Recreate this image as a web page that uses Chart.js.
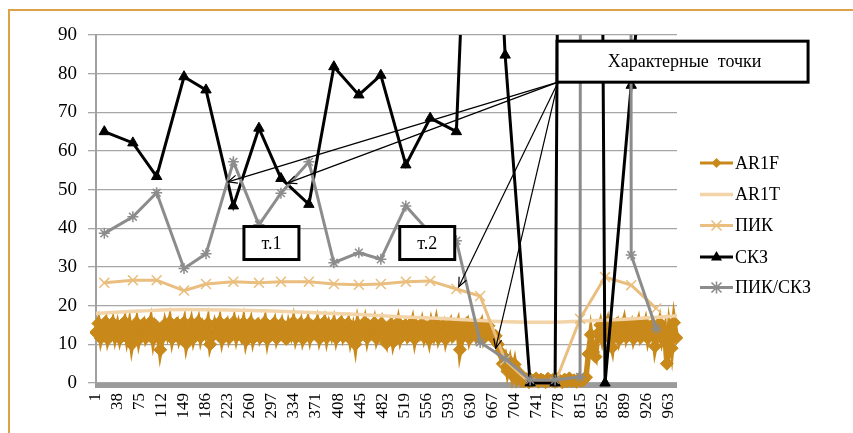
<!DOCTYPE html>
<html><head><meta charset="utf-8">
<script src="https://cdn.jsdelivr.net/npm/chart.js@4.4.1/dist/chart.umd.min.js"></script>
<style>html,body{margin:0;padding:0;background:#fff;}#wrap{width:853px;height:433px;position:relative;}</style>
</head><body><div id="wrap"><canvas id="c" width="853" height="433"></canvas></div>
<script>
// ---- data ----
const tickLabels = [1,38,75,112,149,186,223,260,297,334,371,408,445,482,519,556,593,630,667,704,741,778,815,852,889,926,963];
const xMin = 1, xMax = 978;
const sampleIdx = [15,63,103,149,186,232,275,312,359,401,443,480,522,563,607,647,689,731,773,815,857,901,943];
const pik    = [25.9,26.6,26.6,23.9,25.6,26.2,25.9,26.2,26.2,25.6,25.4,25.6,26.2,26.4,24.3,22.5,5.9,0,0,16.6,27.4,25.3,19.3];
const skz    = [65.0,62.1,53.4,79.2,75.8,45.8,65.9,52.9,46.2,81.8,74.5,79.6,56.4,68.5,65.0,214,84.8,0,0,1040,0,77,150];
const pikSkz = [38.7,43.0,49.2,29.6,33.4,57.2,40.9,49.1,57.2,31.1,33.7,32.0,45.8,38.8,36.8,10.5,6.3,0.8,0.8,1.6,50000,33.1,14.1];
const ar1tIdx = [1,75,149,223,297,371,445,519,593,667,741,815,889,963,978];
const ar1t    = [18.0,18.6,19.0,18.9,18.6,18.2,17.7,17.1,16.6,16.0,15.7,16.0,16.5,17.2,17.4];
const ar1fStart = 1, ar1fStep = 4;
const ar1f = [
13.1,15.4,11.6,14.2,15.7,11.4,13.5,15.5,12.0,14.6,
11.5,13.9,15.8,11.8,14.8,10.0,13.4,15.6,11.3,14.1,
15.3,11.7,13.2,15.8,11.4,14.9,13.6,8.6,11.9,15.2,
12.8,15.7,11.5,14.3,15.4,11.6,13.5,15.6,10.2,13.0,
15.5,11.6,13.9,15.8,11.9,14.5,12.7,15.4,10.0,12.2,
15.1,13.2,15.7,11.4,14.0,15.3,11.7,13.4,15.8,12.1,
14.8,12.6,15.5,11.0,13.6,15.6,11.5,14.1,15.2,11.8,
13.3,15.7,11.4,14.6,13.7,15.5,11.6,13.5,15.3,12.0,
11.4,14.9,12.8,15.7,11.7,13.8,15.4,11.4,13.4,15.6,
11.9,14.5,13.0,15.5,11.5,13.6,15.7,11.8,14.7,12.6,
15.3,11.6,14.0,15.6,12.0,13.5,15.4,11.3,13.8,10.0,
15.1,12.1,13.2,15.7,11.7,14.6,13.1,15.5,11.5,13.4,
15.4,11.8,10.3,14.2,15.2,10.6,12.9,15.6,11.6,13.7,
14.9,12.0,13.5,15.7,11.4,14.4,12.8,15.3,11.9,13.9,
11.2,15.1,12.6,15.5,11.7,13.6,15.0,11.3,13.8,15.4,
12.1,13.4,15.2,8.6,11.8,14.3,15.5,11.5,13.5,14.9,
12.0,13.7,15.3,11.6,13.3,14.8,
12.8,11.5,12.2,10.0,8.0,5.0,6.5,3.0,5.5,2.0,4.8,1.0,2.5,0.5,
0.4,1.0,0.2,0.8,0.5,1.2,0.3,0.9,0.6,0.2,1.1,0.5,0.8,0.3,1.0,0.6,0.2,0.9,0.4,1.2,0.5,0.7,0.3,1.0,0.6,
0.8,1.5,7.5,12.5,
8.0,6.8,12.8,15.0,11.4,13.6,15.6,11.7,9.2,14.3,15.4,11.3,13.3,15.7,11.9,13.8,15.2,11.5,
13.5,15.6,11.8,13.1,15.4,11.6,14.2,15.0,9.5,12.6,15.5,11.4,13.6,5.0,13.4,9.0,15.6,11.7
];
const seriesNames = ['AR1F','AR1T','ПИК','СКЗ','ПИК/СКЗ'];
const calloutText = 'Характерные  точки';
const calloutAnchor = {x: 778, y: 77.8};
const arrowTips = [{x:223,y:52.0},{x:323,y:51.7},{x:611,y:24.9},{x:673,y:9.0}];
const pointLabels = [{t:'т.1',x:296,y:36.2},{t:'т.2',x:558,y:36.2}];

// ---- styles ----
const C_AR1F='#C8891A', C_AR1T='#F2D4A8', C_PIK='#E9BE7E', C_SKZ='#000000', C_PS='#8C8C8C';
const FONT='"Liberation Serif","Times New Roman",serif';

const toXY = (xs, ys) => xs.map((x,i)=>({x, y: ys[i]}));

function marker(ctx, style, x, y, color){
  ctx.save(); ctx.fillStyle=color; ctx.strokeStyle=color; ctx.lineWidth=1.6;
  ctx.beginPath();
  if(style==='diamond'){ ctx.moveTo(x,y-5); ctx.lineTo(x+5,y); ctx.lineTo(x,y+5); ctx.lineTo(x-5,y); ctx.closePath(); ctx.fill(); }
  else if(style==='tri'){ ctx.moveTo(x,y-6); ctx.lineTo(x+5.5,y+3.5); ctx.lineTo(x-5.5,y+3.5); ctx.closePath(); ctx.fill(); }
  else if(style==='x'){ ctx.moveTo(x-5,y-5); ctx.lineTo(x+5,y+5); ctx.moveTo(x+5,y-5); ctx.lineTo(x-5,y+5); ctx.stroke(); }
  else if(style==='star'){ ctx.moveTo(x-5,y-5); ctx.lineTo(x+5,y+5); ctx.moveTo(x+5,y-5); ctx.lineTo(x-5,y+5); ctx.moveTo(x,y-6); ctx.lineTo(x,y+6); ctx.stroke(); }
  ctx.restore();
}

const deco = {
  id:'deco',
  beforeDraw(chart){
    const ctx=chart.ctx; ctx.save();
    ctx.fillStyle='#fff'; ctx.fillRect(0,0,chart.width,chart.height);
    ctx.strokeStyle='#DBA24A'; ctx.lineWidth=2; ctx.strokeRect(9,10,900,500);
    ctx.restore();
  },
  beforeDatasetsDraw(chart){
    const {ctx, chartArea:a}=chart; ctx.save();
    ctx.fillStyle='#9B9B9B'; ctx.fillRect(a.left-1, a.bottom, a.right-a.left+1, 5);
    ctx.restore();
  },
  afterDraw(chart){
    const ctx=chart.ctx, xs=chart.scales.x, ys=chart.scales.y;
    ctx.save();
    const ax=xs.getPixelForValue(calloutAnchor.x), ay=ys.getPixelForValue(calloutAnchor.y);
    ctx.strokeStyle='#000'; ctx.lineWidth=1.2;
    arrowTips.forEach(p=>{
      const tx=xs.getPixelForValue(p.x), ty=ys.getPixelForValue(p.y);
      ctx.beginPath(); ctx.moveTo(ax,ay); ctx.lineTo(tx,ty); ctx.stroke();
      const ang=Math.atan2(ay-ty, ax-tx), L=10, w=0.42;
      ctx.beginPath();
      ctx.moveTo(tx+L*Math.cos(ang+w), ty+L*Math.sin(ang+w)); ctx.lineTo(tx,ty);
      ctx.lineTo(tx+L*Math.cos(ang-w), ty+L*Math.sin(ang-w)); ctx.stroke();
    });
    ctx.lineWidth=3; ctx.fillStyle='#fff';
    const bw=251, bh=41, bx=ax-1, by=ay-bh;
    ctx.fillRect(bx,by,bw,bh); ctx.strokeRect(bx,by,bw,bh);
    ctx.fillStyle='#000'; ctx.font='18px '+FONT; ctx.textAlign='center'; ctx.textBaseline='middle';
    ctx.fillText(calloutText, bx+bw/2+2, by+bh/2+1);
    pointLabels.forEach(p=>{
      const cx=xs.getPixelForValue(p.x), cy=ys.getPixelForValue(p.y);
      const w=55, h=33;
      ctx.fillStyle='#fff'; ctx.fillRect(cx-w/2,cy-h/2,w,h);
      ctx.strokeRect(cx-w/2,cy-h/2,w,h);
      ctx.fillStyle='#000'; ctx.fillText(p.t, cx, cy+1);
    });
    const items=[
      {c:C_AR1F,m:'diamond',lw:3},{c:C_AR1T,m:null,lw:3.5},{c:C_PIK,m:'x',lw:3},{c:C_SKZ,m:'tri',lw:3},{c:C_PS,m:'star',lw:3}
    ];
    const ly=[163,194.5,225.5,257,287.5];
    ctx.textAlign='left';
    items.forEach((it,i)=>{
      const y=ly[i];
      ctx.strokeStyle=it.c; ctx.lineWidth=it.lw; ctx.beginPath(); ctx.moveTo(700,y); ctx.lineTo(733,y); ctx.stroke();
      if(it.m) marker(ctx,it.m,716.5,y,it.c);
      ctx.fillStyle='#000'; ctx.fillText(seriesNames[i],735,y+1);
    });
    ctx.restore();
  }
};

const clip={left:6,right:6,top:0,bottom:8};
new Chart(document.getElementById('c'),{
  type:'line',
  data:{datasets:[
    {label:seriesNames[0],data:ar1f.map((y,k)=>({x:ar1fStart+ar1fStep*k,y})),borderColor:C_AR1F,backgroundColor:C_AR1F,borderWidth:5.5,
     pointStyle:'rectRot',pointRadius:6.5,pointBackgroundColor:C_AR1F,pointBorderColor:C_AR1F,pointBorderWidth:1,order:5,clip},
    {label:seriesNames[1],data:toXY(ar1tIdx,ar1t),borderColor:C_AR1T,borderWidth:3.5,pointRadius:0,cubicInterpolationMode:'monotone',order:4,clip},
    {label:seriesNames[2],data:toXY(sampleIdx,pik),borderColor:C_PIK,borderWidth:3,pointStyle:'crossRot',pointRadius:7,
     pointBorderColor:C_PIK,pointBorderWidth:1.5,order:3,clip},
    {label:seriesNames[3],data:toXY(sampleIdx,skz),borderColor:C_SKZ,backgroundColor:C_SKZ,borderWidth:3,pointStyle:'triangle',pointRadius:6,
     pointBackgroundColor:C_SKZ,pointBorderColor:C_SKZ,pointBorderWidth:1,order:2,clip},
    {label:seriesNames[4],data:toXY(sampleIdx,pikSkz),borderColor:C_PS,borderWidth:3,pointStyle:'star',pointRadius:5.5,
     pointBorderColor:C_PS,pointBorderWidth:1.5,order:1,clip}
  ]},
  options:{
    responsive:false, animation:false, devicePixelRatio:1,
    layout:{padding:{left:0,right:176,top:35,bottom:0}},
    plugins:{legend:{display:false},tooltip:{enabled:false}},
    elements:{line:{tension:0}},
    scales:{
      x:{type:'linear',min:xMin,max:xMax,offset:false,
        grid:{display:false,drawTicks:false},border:{display:false},
        afterBuildTicks:s=>{s.ticks=tickLabels.map(v=>({value:v}));},
        afterFit:s=>{s.height=50;},
        ticks:{autoSkip:false,minRotation:90,maxRotation:90,padding:10,color:'#000',font:{family:FONT,size:17},callback:v=>String(v)}
      },
      y:{min:0,max:90,
        grid:{color:'#A6A6A6',lineWidth:1.3,tickLength:8},
        border:{color:'#A0A0A0',width:2},
        afterFit:s=>{s.width=96;},
        ticks:{stepSize:10,padding:11,color:'#000',font:{family:FONT,size:19}}
      }
    }
  },
  plugins:[deco]
});
</script></body></html>
